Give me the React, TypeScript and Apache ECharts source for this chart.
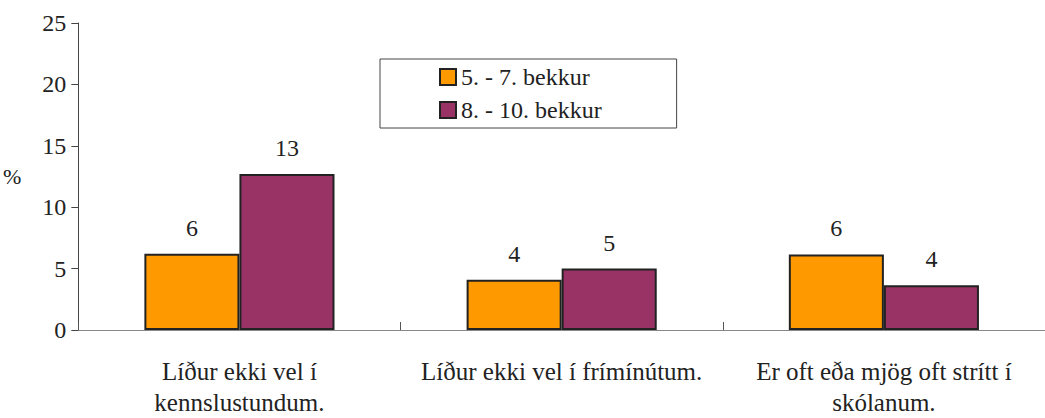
import React, { useEffect, useRef } from "react";
import * as echarts from "echarts";

const categories = [
  "Líður ekki vel í\nkennslustundum.",
  "Líður ekki vel í frímínútum.",
  "Er oft eða mjög oft strítt í\nskólanum.",
];
const seriesNames = ["5. - 7. bekkur", "8. - 10. bekkur"];
const grade5to7 = [6.2, 4.1, 6.15];
const grade8to10 = [12.7, 5.0, 3.65];
const yTicks = [0, 5, 10, 15, 20, 25];

const FONT = "Liberation Serif, Times New Roman, serif";
const FS = 24;

export default function App() {
  const ref = useRef<HTMLDivElement>(null);
  useEffect(() => {
    if (!ref.current) return;
    const chart = echarts.init(ref.current, undefined, { renderer: "svg" });
    const txt = { fontFamily: FONT, fontSize: FS, color: "#222" };
    const barLabel = {
      show: true,
      position: "top" as const,
      distance: 14,
      ...txt,
      formatter: (p: any) => String(Math.round(p.value)),
    };
    chart.setOption({
      animation: false,
      textStyle: { fontFamily: FONT, fontSize: FS },
      grid: { left: 77, top: 23, bottom: 84, right: -7 },
      legend: {
        orient: "vertical",
        left: 380,
        top: 59,
        padding: [6, 75, 6, 59],
        itemGap: 9,
        itemWidth: 16,
        itemHeight: 16,
        borderColor: "#444",
        borderWidth: 1,
        backgroundColor: "#fff",
        icon: "rect",
        textStyle: { ...txt, padding: [0, 0, 0, 0] },
        data: seriesNames,
      },
      xAxis: {
        type: "category",
        data: categories,
        axisLine: { lineStyle: { color: "#888", width: 1 } },
        axisTick: { show: true, inside: true, length: 8, lineStyle: { color: "#555" } },
        axisLabel: { ...txt, fontSize: 25, lineHeight: 31, margin: 26, interval: 0 },
      },
      yAxis: {
        type: "value",
        min: 0,
        max: 25,
        interval: 5,
        name: "%",
        nameLocation: "middle",
        nameRotate: 0,
        nameGap: 57,
        nameTextStyle: { ...txt, fontSize: 22 },
        axisLine: { show: true, lineStyle: { color: "#444", width: 1 } },
        axisTick: { show: true, length: 7, lineStyle: { color: "#444" } },
        splitLine: { show: false },
        axisLabel: {
          ...txt,
          margin: 12,
          formatter: (v: number) => (yTicks.includes(v) ? String(v) : ""),
        },
      },
      series: [
        {
          name: seriesNames[0],
          type: "bar",
          data: grade5to7,
          barGap: "0%",
          barCategoryGap: "41%",
          itemStyle: { color: "#FF9900", borderColor: "#222", borderWidth: 2 },
          label: barLabel,
        },
        {
          name: seriesNames[1],
          type: "bar",
          data: grade8to10,
          itemStyle: { color: "#993366", borderColor: "#222", borderWidth: 2 },
          label: barLabel,
        },
      ],
    });
    return () => chart.dispose();
  }, []);
  return (
    <div
      ref={ref}
      style={{ position: "absolute", left: 0, top: 0, width: 1045, height: 418 }}
    />
  );
}
